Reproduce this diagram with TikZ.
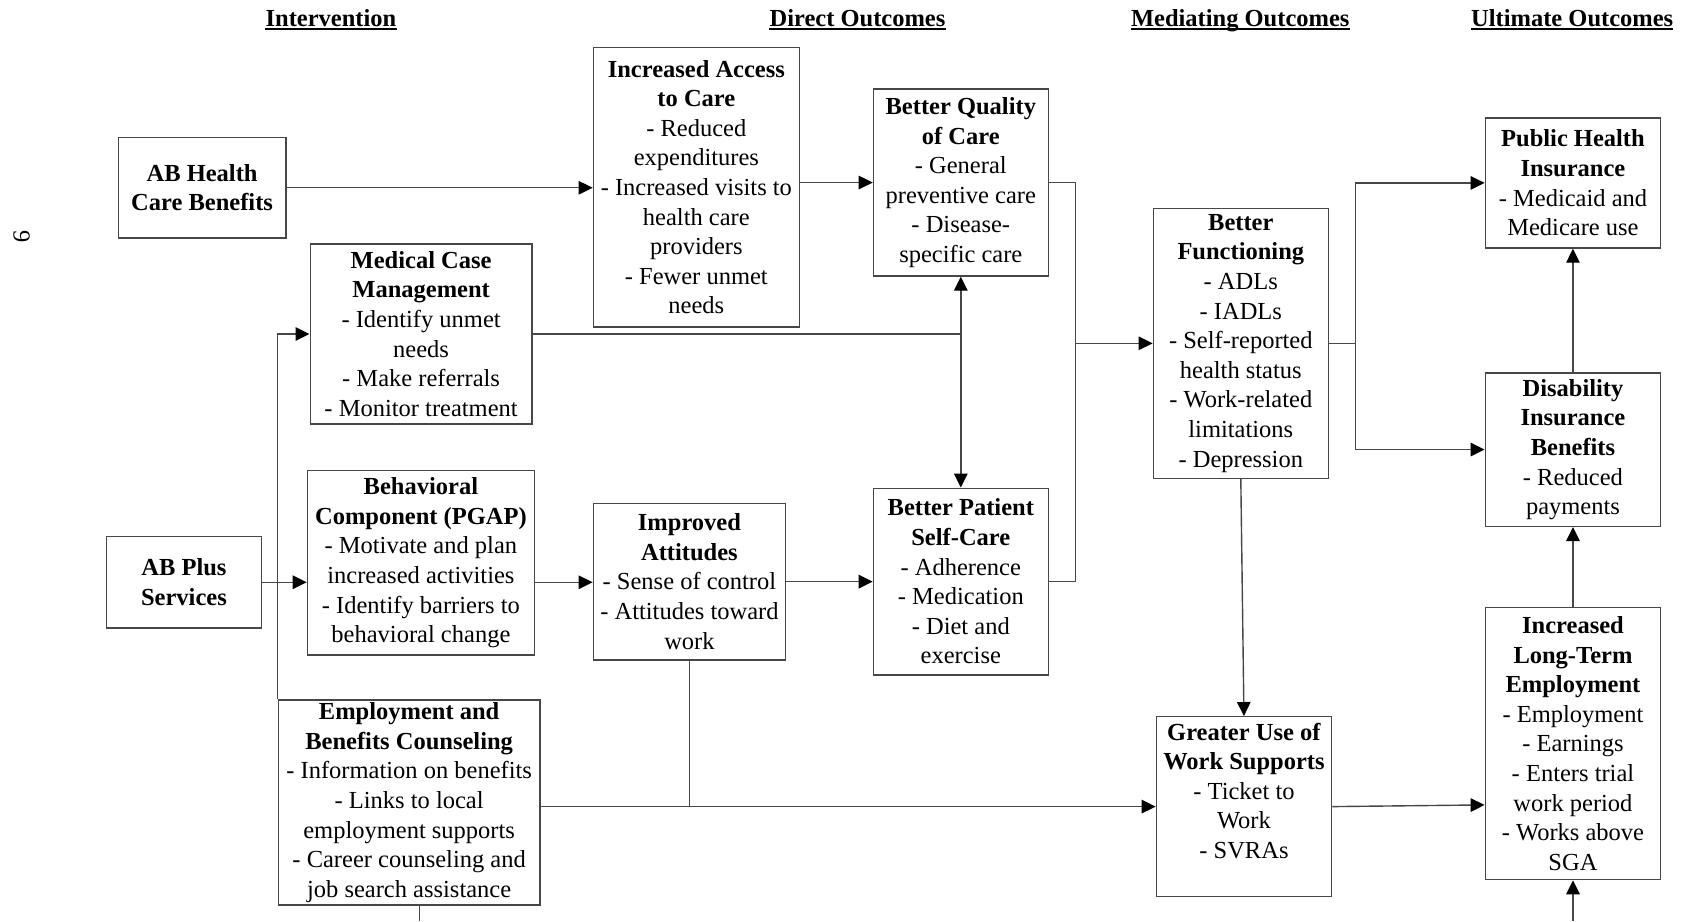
\documentclass[tikz,border=0pt]{standalone}
\usepackage{fontspec}
\setmainfont{Liberation Serif}
\usetikzlibrary{arrows.meta,fit,calc}
\newcommand{\hb}[1]{\textbf{#1}}
\newcommand{\mybx}[6]{%
  \node[box, fit={(#2,#3) (#4,#5)}] (#1) {};
  \node[txt] (#1t) at (#1.center) {#6};}
\begin{document}
\begin{tikzpicture}[x=1pt,y=-1pt,
  box/.style={draw=black!72, line width=1.4pt, inner sep=0pt},
  txt/.style={align=center, inner sep=0pt, font=\fontsize{24.5pt}{29.6pt}\selectfont},
  ln/.style={draw=black!72, line width=1.4pt},
  arr/.style={ln, -{Triangle[length=14pt,width=13.5pt,color=black]}},
  arrtwo/.style={ln, {Triangle[length=14pt,width=13.5pt,color=black]}-{Triangle[length=14pt,width=13.5pt,color=black]}},
  hdr/.style={font=\bfseries\fontsize{24.5pt}{29.6pt}\selectfont, inner sep=0pt, anchor=base},
  uline/.style={line width=2pt, draw=black}]
\useasboundingbox (0,0) rectangle (1685,921);

% headers
\node[hdr] (h1) at (331,26) {Intervention};
\node[hdr] (h2) at (857.5,26) {Direct Outcomes};
\node[hdr] (h3) at (1240.2,26) {Mediating Outcomes};
\node[hdr] (h4) at (1572.2,26) {Ultimate Outcomes};
\foreach \h in {h1,h2,h3,h4}{
  \draw[uline] ($(\h.base west)+(0,3)$) -- ($(\h.base east)+(0,3)$);
}

% page number
\node[txt, rotate=-90] (pg) at (21.5,236.4) {9};

% boxes
\mybx{abh}{118.4}{137.7}{285.8}{237.8}{\hb{AB Health}\\\hb{Care Benefits}}
\mybx{iac}{593.3}{47.3}{799.4}{326.8}{\hb{Increased Access}\\\hb{to Care}\\- Reduced\\expenditures\\- Increased visits to\\health care\\providers\\- Fewer unmet\\needs}
\mybx{bqc}{873.4}{89.1}{1048.2}{276.0}{\hb{Better Quality}\\\hb{of Care}\\- General\\preventive care\\- Disease-\\specific care}
\mybx{mcm}{310.2}{244.0}{532.0}{424.0}{\hb{Medical Case}\\\hb{Management}\\- Identify unmet\\needs\\- Make referrals\\- Monitor treatment}
\mybx{bf}{1153.3}{208.4}{1328.3}{478.3}{\hb{Better}\\\hb{Functioning}\\- ADLs\\- IADLs\\- Self-reported\\health status\\- Work-related\\limitations\\- Depression}
\mybx{phi}{1485.3}{117.8}{1660.6}{248.0}{\hb{Public Health}\\\hb{Insurance}\\- Medicaid and\\Medicare use}
\mybx{dib}{1485.3}{372.8}{1660.6}{526.3}{\hb{Disability}\\\hb{Insurance}\\\hb{Benefits}\\- Reduced\\payments}
\mybx{abp}{106.6}{536.5}{261.3}{628.0}{\hb{AB Plus}\\\hb{Services}}
\mybx{bcp}{307.4}{470.7}{534.4}{654.8}{\hb{Behavioral}\\\hb{Component (PGAP)}\\- Motivate and plan\\increased activities\\- Identify barriers to\\behavioral change}
\mybx{ia}{593.3}{503.2}{785.6}{660.0}{\hb{Improved}\\\hb{Attitudes}\\- Sense of control\\- Attitudes toward\\work}
\mybx{bps}{873.4}{488.2}{1048.2}{675.0}{\hb{Better Patient}\\\hb{Self-Care}\\- Adherence\\- Medication\\- Diet and\\exercise}
\mybx{ebc}{278.3}{700.0}{540.0}{905.0}{\hb{Employment and}\\\hb{Benefits Counseling}\\- Information on benefits\\- Links to local\\employment supports\\- Career counseling and\\job search assistance}
\node[box, fit={(1156.3,716.7) (1331.6,896.5)}] (guws) {};
\node[txt] (guwst) at ($(guws.center)+(0,-15.8)$) {\hb{Greater Use of}\\\hb{Work Supports}\\- Ticket to\\Work\\- SVRAs};
\mybx{ilte}{1485.3}{607.6}{1660.6}{879.6}{\hb{Increased}\\\hb{Long-Term}\\\hb{Employment}\\- Employment\\- Earnings\\- Enters trial\\work period\\- Works above\\SGA}

% connectors
\draw[arr] (abh.east) -- (abh.east -| iac.west);
\draw[arr] (bqc.west -| iac.east) -- (bqc.west);
\draw[ln] (bqc.east) -- ++(26.5,0) coordinate (jb) |- (bps.east);
\draw[arr] (jb |- bf.west) -- (bf.west);
\draw[ln] (mcm.east) -- (mcm.east -| bqc.south);
\draw[arrtwo] (bqc.south) -- (bps.north);
\draw[arr] (ebc.north west) -- (ebc.north west |- mcm.west) -- (mcm.west);
\draw[arr] (abp.east) -- (abp.east -| bcp.west);
\draw[arr] (bcp.east |- abp.east) -- (abp.east -| ia.west);
\draw[arr] (ia.east) -- (ia.east -| bps.west);
\draw[ln] (ia.south) -- (ia.south |- guws.west);
\draw[arr] (guws.west -| ebc.east) -- (guws.west);
\draw[arr] (bf.south) -- (guws.north);
\draw[ln] (bf.east) -- ++(26.3,0) coordinate (jr);
\draw[arr] (jr) |- (phi.west);
\draw[arr] (jr) |- (dib.west);
\draw[arr] (dib.north) -- (phi.south);
\draw[arr] (ilte.north) -- (dib.south);
\draw[arr] (guws.east) -- ([yshift=1.7pt]guws.east -| ilte.west);
\coordinate (bota) at (419.3,921);
\coordinate (botb) at (1573,921);
\draw[ln] (bota |- ebc.south) -- (bota);
\draw[arr] (botb) -- (botb |- ilte.south);
\end{tikzpicture}
\end{document}
